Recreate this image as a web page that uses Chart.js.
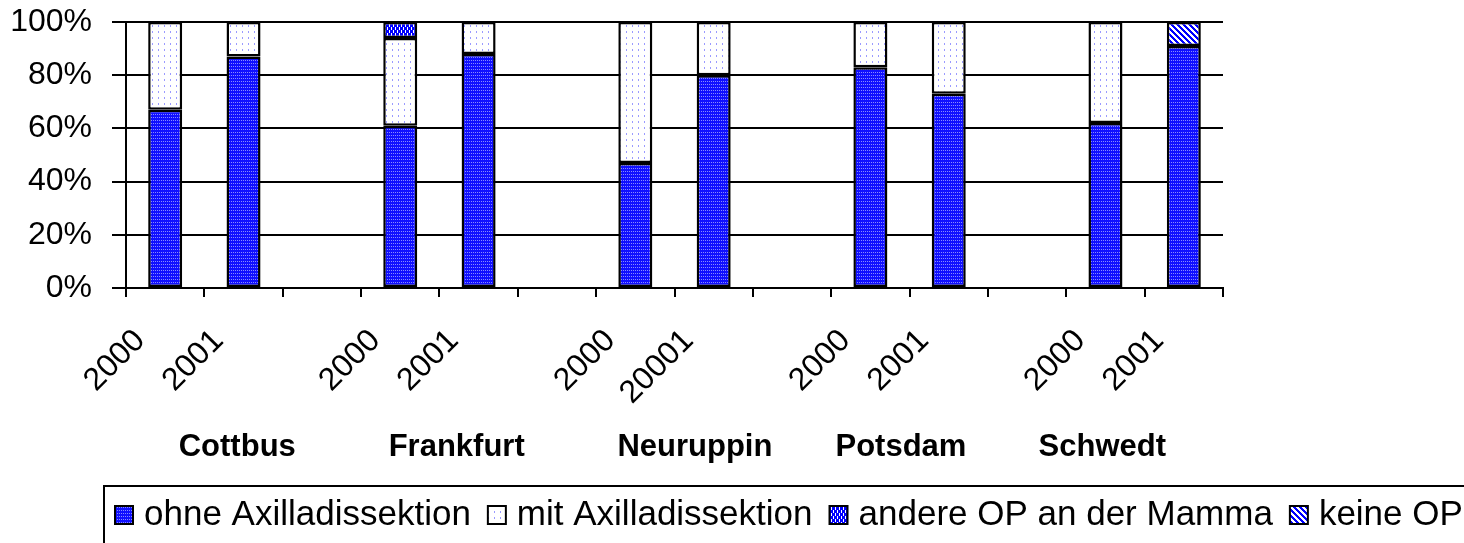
<!DOCTYPE html>
<html>
<head>
<meta charset="utf-8">
<script src="https://cdn.jsdelivr.net/npm/chart.js@4.4.1/dist/chart.umd.min.js"></script>
<style>
  html, body { margin: 0; padding: 0; background: #ffffff; }
  #wrap { width: 1464px; height: 543px; }
</style>
</head>
<body>
<div id="wrap"><canvas id="c" width="1464" height="543"></canvas></div>
<script>
// ---- data ----
const categories = ['2000', '2001', '', '2000', '2001', '', '2000', '20001', '', '2000', '2001', '', '2000', '2001'];
const groupNames = ['Cottbus', 'Frankfurt', 'Neuruppin', 'Potsdam', 'Schwedt'];
const seriesNames = ['ohne Axilladissektion', 'mit Axilladissektion', 'andere OP an der Mamma', 'keine OP'];
const ohneAxilla = [67, 87, null, 61, 88, null, 47, 80, null, 83, 73, null, 62, 91];
const mitAxilla = [33, 13, null, 33, 12, null, 53, 20, null, 17, 27, null, 38, null];
const andereOP = [null, null, null, 6, null, null, null, null, null, null, null, null, null, null];
const keineOP = [null, null, null, null, null, null, null, null, null, null, null, null, null, 9];
const yTicks = [0, 20, 40, 60, 80, 100];

// ---- layout constants (not data) ----
const groupLabelPos = [0.92, 3.72, 6.76, 9.39, 11.96];

// ---- fill patterns ----
function makePattern(w, h, bg, fg, pts) {
  const c = document.createElement('canvas');
  c.width = w; c.height = h;
  const g = c.getContext('2d');
  g.fillStyle = bg; g.fillRect(0, 0, w, h);
  g.fillStyle = fg;
  pts.forEach(p => g.fillRect(p[0], p[1], 1, 1));
  return g.createPattern(c, 'repeat');
}
const ctx = document.getElementById('c').getContext('2d');
const patOhne = makePattern(4, 3, '#1010ff', '#8a8aff', [[1, 0], [3, 0]]);
const patMit = makePattern(6, 6, '#ffffff', '#9a9aff', [[2, 1], [2, 2]]);
const patAndere = (function () {
  const pts = [];
  for (let y = 0; y < 3; y++) { pts.push([1, y]); }
  for (let y = 3; y < 6; y++) { pts.push([3, y]); }
  return makePattern(4, 6, '#0000ff', '#ffffff', pts);
})();
const patKeine = (function () {
  const pts = [];
  for (let y = 0; y < 6; y++) for (let x = 0; x < 6; x++) {
    if (((x - y) % 6 + 6) % 6 < 3) pts.push([x, y]);
  }
  return makePattern(6, 6, '#ffffff', '#0000ff', pts);
})();
const fills = [patOhne, patMit, patAndere, patKeine];
const seriesData = [ohneAxilla, mitAxilla, andereOP, keineOP];

const groupLabelPlugin = {
  id: 'groupLabels',
  afterDraw(chart) {
    const c = chart.ctx;
    const xs = chart.scales.x;
    c.save();
    c.fillStyle = '#000';
    c.font = 'bold 31px "Liberation Sans", Arial, sans-serif';
    c.textAlign = 'center';
    c.textBaseline = 'middle';
    groupNames.forEach((n, i) => {
      c.fillText(n, xs.getPixelForValue(groupLabelPos[i]), 447);
    });
    // legend
    c.font = '35px "Liberation Sans", Arial, sans-serif';
    c.textAlign = 'left';
    c.textBaseline = 'middle';
    c.lineWidth = 2;
    c.strokeStyle = '#000';
    c.strokeRect(104, 486, 1400, 80);
    let x = 115;
    const yMid = 515;
    seriesNames.forEach((n, i) => {
      c.fillStyle = fills[i];
      c.fillRect(x, yMid - 9, 18, 18);
      c.strokeRect(x, yMid - 9, 18, 18);
      c.fillStyle = '#000';
      const tx = x + 29;
      c.fillText(n, tx, yMid);
      x = tx + c.measureText(n).width + 17;
    });
    c.restore();
  }
};

new Chart(ctx, {
  type: 'bar',
  data: {
    labels: categories,
    datasets: seriesNames.map((n, i) => ({
      label: n,
      data: seriesData[i],
      backgroundColor: fills[i],
      borderColor: '#000000',
      borderWidth: 2.5,
      borderSkipped: false,
      categoryPercentage: 1.0,
      barPercentage: 0.434
    }))
  },
  options: {
    responsive: false,
    animation: false,
    devicePixelRatio: 1,
    layout: { padding: { top: 22, right: 241, bottom: 0, left: 0 } },
    plugins: { legend: { display: false }, tooltip: { enabled: false } },
    scales: {
      x: {
        stacked: true,
        grid: { offset: true, drawOnChartArea: false, drawTicks: true, tickLength: 9, color: '#000', lineWidth: 2 },
        border: { display: true, color: '#000', width: 2 },
        ticks: {
          autoSkip: false, maxRotation: 45, minRotation: 45, padding: 25, labelOffset: -25,
          color: '#000', font: { family: '"Liberation Sans", Arial, sans-serif', size: 32 }
        },
        afterFit(s) { s.height = 255; s.paddingLeft = 0; s.paddingRight = 0; s.paddingTop = 0; s.paddingBottom = 0; }
      },
      y: {
        stacked: true, min: 0, max: 100,
        afterBuildTicks(s) { s.ticks = yTicks.map(v => ({ value: v })); },
        grid: { color: '#000', lineWidth: 2, tickLength: 14, drawTicks: true },
        border: { display: true, color: '#000', width: 2 },
        ticks: {
          padding: 20, color: '#000',
          font: { family: '"Liberation Sans", Arial, sans-serif', size: 32 },
          callback: v => v + '%'
        },
        afterFit(s) { s.width = 126; s.paddingTop = 0; s.paddingBottom = 0; s.paddingLeft = 0; s.paddingRight = 0; }
      }
    }
  },
  plugins: [groupLabelPlugin]
});
</script>
</body>
</html>
